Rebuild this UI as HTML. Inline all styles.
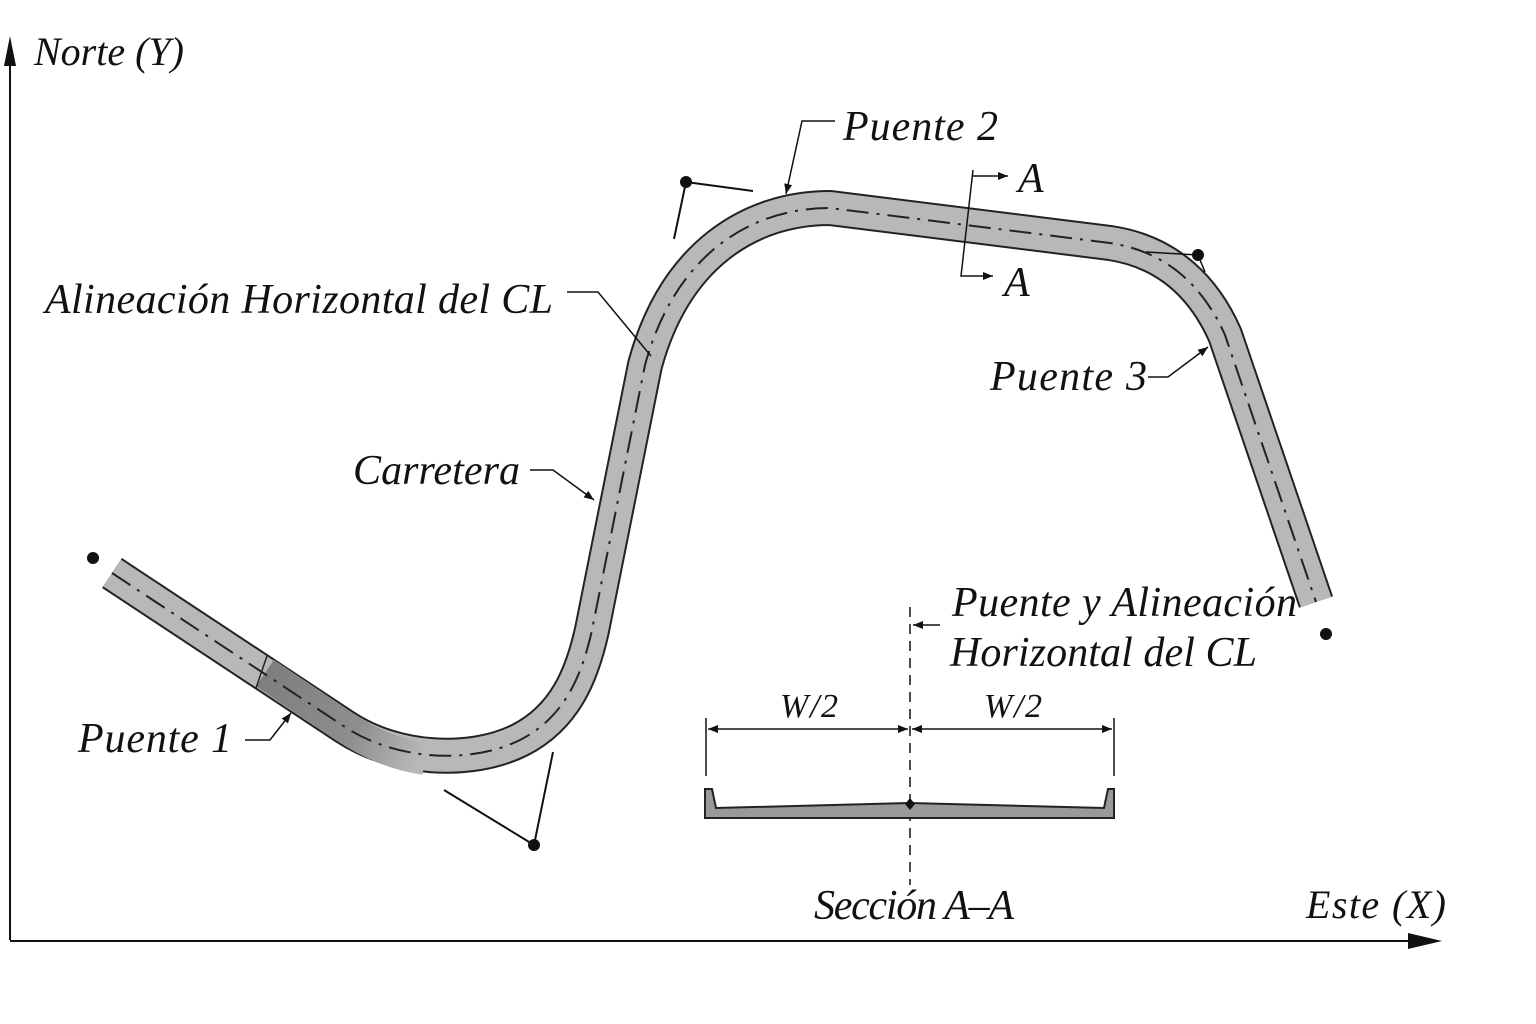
<!DOCTYPE html>
<html><head><meta charset="utf-8"><style>
html,body{margin:0;padding:0;background:#fff}
svg{display:block}
text{font-family:"Liberation Serif",serif;font-style:italic;fill:#111}
</style></head><body>
<svg width="1536" height="1024" viewBox="0 0 1536 1024" xmlns="http://www.w3.org/2000/svg">
<defs>
<marker id="ah2" viewBox="0 0 10 10" refX="10" refY="5" markerWidth="14" markerHeight="10" markerUnits="userSpaceOnUse" orient="auto"><path d="M0,1 L10,5 L0,9 z" fill="#111"/></marker>
<linearGradient id="dk" x1="265" y1="673" x2="420" y2="760" gradientUnits="userSpaceOnUse"><stop offset="0" stop-color="#7e7e7e"/><stop offset="0.6" stop-color="#8e8e8e"/><stop offset="1" stop-color="#b8b8b8"/></linearGradient>
</defs>
<line x1="10" y1="940" x2="10" y2="45" stroke="#111" stroke-width="2"/>
<path d="M4,66 L10,36 L16,66 z" fill="#111"/>
<line x1="10" y1="941" x2="1415" y2="941" stroke="#111" stroke-width="2"/>
<path d="M1408,933 L1442,941 L1408,949 z" fill="#111"/>
<text x="34" y="65" font-size="40">Norte (Y)</text>
<text x="1306" y="918" font-size="40" textLength="140">Este (X)</text>

<g fill="none">
<path d="M112 573 L345 727 C395 760 470 765 520 740 C565 717 582 675 592 630 L645 365 C675 255 750 208 830 208 L1110 243 C1170 252 1205 290 1225 335 L1316 602" stroke="#222" stroke-width="36" stroke-linejoin="round"/>
<path d="M112 573 L345 727 C395 760 470 765 520 740 C565 717 582 675 592 630 L645 365 C675 255 750 208 830 208 L1110 243 C1170 252 1205 290 1225 335 L1316 602" stroke="#b8b8b8" stroke-width="32" stroke-linejoin="round"/>
<path d="M265 673 L345 727 C375 747 400 755 425 759" stroke="url(#dk)" stroke-width="32"/>
<line x1="267" y1="656" x2="256" y2="688" stroke="#222" stroke-width="1.5"/>
<path d="M112 573 L345 727 C395 760 470 765 520 740 C565 717 582 675 592 630 L645 365 C675 255 750 208 830 208 L1110 243 C1170 252 1205 290 1225 335 L1316 602" stroke="#222" stroke-width="2" stroke-dasharray="22 8 3 8"/>
</g>
<circle cx="93" cy="558" r="6" fill="#111"/>
<circle cx="1326" cy="634" r="6" fill="#111"/>
<circle cx="686" cy="182" r="6" fill="#111"/>
<circle cx="1198" cy="255" r="6" fill="#111"/>
<circle cx="534" cy="845" r="6" fill="#111"/>
<g stroke="#111" stroke-width="2" fill="none">
<line x1="686" y1="182" x2="753" y2="191"/>
<line x1="686" y1="182" x2="674" y2="239"/>
<line x1="534" y1="845" x2="444" y2="790"/>
<line x1="534" y1="845" x2="553" y2="752"/>
<line x1="1198" y1="255" x2="1146" y2="252" stroke-width="1.5"/>
<line x1="1198" y1="255" x2="1205" y2="272" stroke-width="1.5"/>
<polyline points="973,170 961,276 993,276" stroke-width="1.5" marker-end="url(#ah2)"/>
<line x1="973" y1="176" x2="1008" y2="176" marker-end="url(#ah2)" stroke-width="1.5"/>
<polyline points="835,121 802,121 786,194" marker-end="url(#ah2)" stroke-width="1.5"/>
<polyline points="567,292 598,292 651,356" stroke-width="1.5"/>
<polyline points="530,470 553,470 594,500" marker-end="url(#ah2)" stroke-width="1.5"/>
<polyline points="1148,377 1168,377 1208,347" marker-end="url(#ah2)" stroke-width="1.5"/>
<polyline points="245,740 270,740 291,713" marker-end="url(#ah2)" stroke-width="1.5"/>
<line x1="940" y1="625" x2="913" y2="625" marker-end="url(#ah2)" stroke-width="1.5"/>
<line x1="910" y1="607" x2="910" y2="885" stroke-dasharray="10 7" stroke-width="1.5"/>
<line x1="706" y1="718" x2="706" y2="776" stroke-width="1.5"/>
<line x1="1114" y1="718" x2="1114" y2="776" stroke-width="1.5"/>
<line x1="890" y1="729" x2="708" y2="729" marker-end="url(#ah2)" stroke-width="1.5"/>
<line x1="890" y1="729" x2="908" y2="729" marker-end="url(#ah2)" stroke-width="1.5"/>
<line x1="930" y1="729" x2="912" y2="729" marker-end="url(#ah2)" stroke-width="1.5"/>
<line x1="930" y1="729" x2="1112" y2="729" marker-end="url(#ah2)" stroke-width="1.5"/>
</g>
<polygon points="705,789 712,789 716,808 910,803 1104,808 1108,789 1114,789 1114,818 705,818" fill="#999" stroke="#222" stroke-width="2"/>
<path d="M910,798 L915,804 L910,810 L905,804 z" fill="#111"/>

<text x="843" y="140" font-size="42" textLength="155">Puente 2</text>
<text x="1018" y="192" font-size="42">A</text>
<text x="1004" y="296" font-size="42">A</text>
<text x="45" y="313" font-size="42" textLength="508">Alineación Horizontal del CL</text>
<text x="353" y="484" font-size="42" textLength="167">Carretera</text>
<text x="990" y="390" font-size="42" textLength="157">Puente 3</text>
<text x="78" y="752" font-size="42" textLength="154">Puente 1</text>
<text x="952" y="616" font-size="42" textLength="345">Puente y Alineación</text>
<text x="950" y="666" font-size="42" textLength="307">Horizontal del CL</text>
<text x="780" y="717" font-size="34" textLength="58">W/2</text>
<text x="984" y="717" font-size="34" textLength="58">W/2</text>
<text x="814" y="919" font-size="42" textLength="200">Sección A–A</text>
</svg>
</body></html>
